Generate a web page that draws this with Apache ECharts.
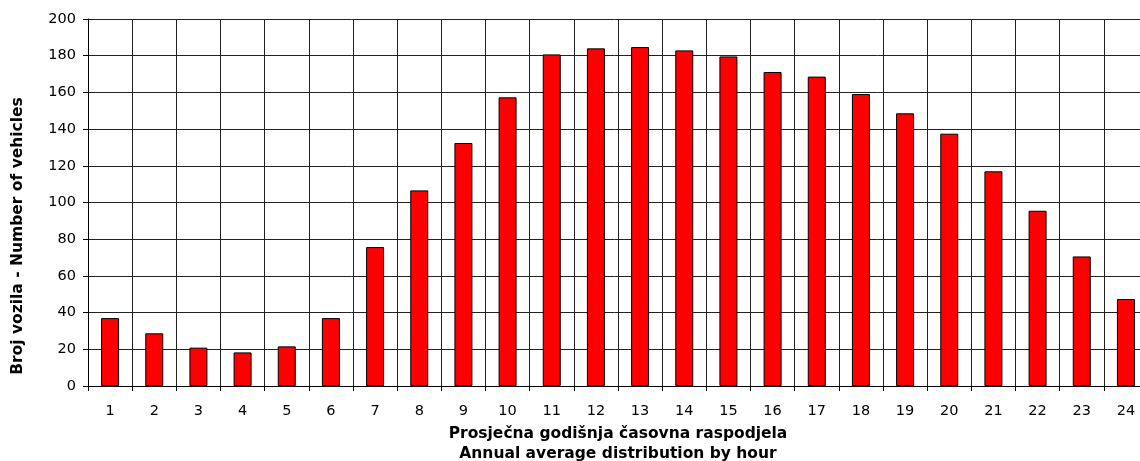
<!DOCTYPE html>
<html>
<head>
<meta charset="utf-8">
<script src="https://cdn.jsdelivr.net/npm/echarts@6/dist/echarts.min.js"></script>
<style>
html,body{margin:0;padding:0;background:#fff;}
#chart{width:1140px;height:461px;}
</style>
</head>
<body>
<div id="chart"></div>
<script>
const hours = ['1','2','3','4','5','6','7','8','9','10','11','12','13','14','15','16','17','18','19','20','21','22','23','24'];
const vehicles = [37.0, 28.7, 20.9, 18.3, 21.6, 37.0, 75.7, 106.6, 132.4, 157.3, 180.7, 184.0, 184.7, 182.9, 179.6, 171.1, 168.6, 159.1, 148.6, 137.5, 117.0, 95.5, 70.6, 47.4];
const yTicks = {min: 0, max: 200, interval: 20};
const xTitle = 'Prosječna godišnja časovna raspodjela\nAnnual average distribution by hour';
const yTitle = 'Broj vozila - Number of vehicles';

const FONT = '"DejaVu Sans", Verdana, sans-serif';
const chart = echarts.init(document.getElementById('chart'), null, {renderer: 'canvas'});
chart.setOption({
  animation: false,
  backgroundColor: '#fff',
  grid: {left: 88, top: 19, width: 1060, height: 367, containLabel: false, outerBoundsMode: 'none'},
  xAxis: {
    type: 'category',
    data: hours,
    boundaryGap: true,
    axisLine: {show: true, lineStyle: {color: '#000', width: 1}},
    axisTick: {show: true, length: 5, interval: 0, alignWithLabel: false, lineStyle: {color: '#000'}},
    axisLabel: {interval: 0, color: '#000', fontFamily: FONT, fontSize: 14.5, margin: 18},
    splitLine: {show: true, interval: 0, lineStyle: {color: '#222', width: 1}},
    name: xTitle,
    nameLocation: 'middle',
    nameGap: 37,
    nameTextStyle: {color: '#000', fontFamily: FONT, fontSize: 15.5, fontWeight: 'bold', lineHeight: 20, align: 'center'}
  },
  yAxis: {
    type: 'value',
    min: yTicks.min, max: yTicks.max, interval: yTicks.interval,
    axisLine: {show: true, lineStyle: {color: '#000', width: 1}},
    axisTick: {show: true, length: 5, lineStyle: {color: '#000'}},
    axisLabel: {color: '#000', fontFamily: FONT, fontSize: 14.5, margin: 12},
    splitLine: {show: true, lineStyle: {color: '#222', width: 1}}
  },
  graphic: [{
    type: 'text',
    x: 18, y: 236,
    rotation: Math.PI / 2,
    style: {text: yTitle, fill: '#000', font: 'bold 15.5px ' + FONT, textAlign: 'center', textVerticalAlign: 'middle'}
  }],
  series: [{
    type: 'bar',
    data: vehicles,
    barWidth: 18,
    itemStyle: {color: '#ff0000', borderColor: '#000', borderWidth: 1}
  }]
});
</script>
</body>
</html>
